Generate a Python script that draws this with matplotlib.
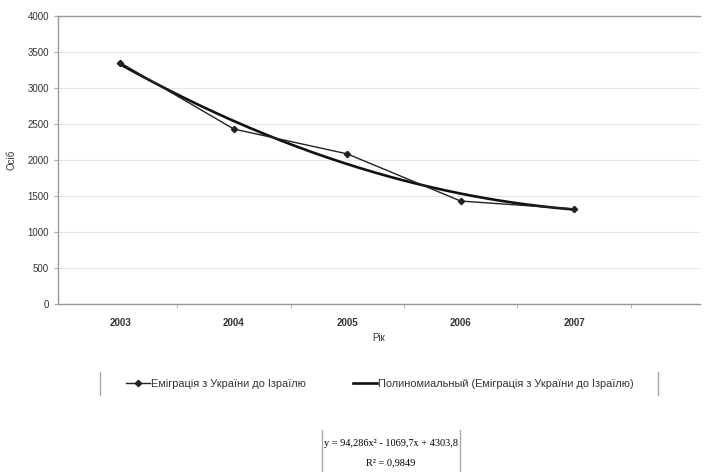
import matplotlib
matplotlib.use('Agg')
import matplotlib.pyplot as plt
from matplotlib.lines import Line2D
import numpy as np

# data
years = ['2003', '2004', '2005', '2006', '2007']
emigration = [3350, 2430, 2085, 1430, 1320]
# trendline coefficients as printed under the chart
coef_a, coef_b, coef_c = 94.286, -1069.7, 4303.8
r2_text = '0,9849'

label_data = 'Еміграція з України до Ізраїлю'
label_trend = 'Полиномиальный (Еміграція з України до Ізраїлю)'

plt.rcParams['font.family'] = ['Liberation Sans', 'DejaVu Sans']

fig = plt.figure(figsize=(7.04, 4.72), dpi=100)
ax = fig.add_axes([58 / 704, 1 - 304 / 472, 642 / 704, 288 / 472])

x = np.arange(len(years))
ax.plot(x, emigration, color='#222222', lw=1.0, marker='D', ms=3.2, zorder=3)

xs = np.linspace(0, len(years) - 1, 200)
trend = np.polyval([coef_a, coef_b, coef_c], xs + 1)
ax.plot(xs, trend, color='#111111', lw=1.9, zorder=2)

ax.set_xlim(-0.55, 5.11)
ax.set_ylim(0, 4000)
ax.set_yticks(np.arange(0, 4001, 500))
ax.set_xticks(x)
ax.set_xticklabels(years, fontsize=7, fontweight='bold', color='#333333')
ax.set_xticks(np.arange(0.5, 4.6, 1), minor=True)
ax.tick_params(axis='x', which='major', length=0, pad=10)
ax.tick_params(axis='x', which='minor', length=3, color='#aaaaaa')
ax.tick_params(axis='y', labelsize=7, length=3, color='#aaaaaa', labelcolor='#333333')
ax.grid(axis='y', color='#e6e6e6', lw=0.8)
ax.set_axisbelow(True)
for s in ax.spines.values():
    s.set_color('#999999')
    s.set_linewidth(1.0)
ax.spines['right'].set_visible(False)

ax.set_xlabel('Рік', fontsize=7, color='#333333', labelpad=4)
ax.set_ylabel('Осіб', fontsize=7, color='#333333', labelpad=8)

# legend
handles = [Line2D([], [], color='#222222', lw=1.0, marker='D', ms=3.2),
           Line2D([], [], color='#111111', lw=1.9)]
fig.legend(handles, [label_data, label_trend], loc='center', ncol=2,
           bbox_to_anchor=(380 / 704, 1 - 384 / 472), frameon=False,
           fontsize=7.9, handlelength=2.2, handletextpad=0.1, columnspacing=4.3,
           labelcolor='#333333')
for xp in (100, 658):
    fig.add_artist(Line2D([xp / 704, xp / 704], [1 - 372 / 472, 1 - 395 / 472],
                          color='#aaaaaa', lw=1.0))

# equation box
fig.text(391 / 704, 1 - 444 / 472, 'y = 94,286x² - 1069,7x + 4303,8',
         ha='center', va='center', fontsize=7.4, family='Liberation Serif')
fig.text(391 / 704, 1 - 463 / 472, 'R² = ' + r2_text,
         ha='center', va='center', fontsize=7.4, family='Liberation Serif')
for xp in (322, 460):
    fig.add_artist(Line2D([xp / 704, xp / 704], [1 - 430 / 472, 1 - 471 / 472],
                          color='#aaaaaa', lw=1.0))

fig.savefig('out.png', dpi=100)
